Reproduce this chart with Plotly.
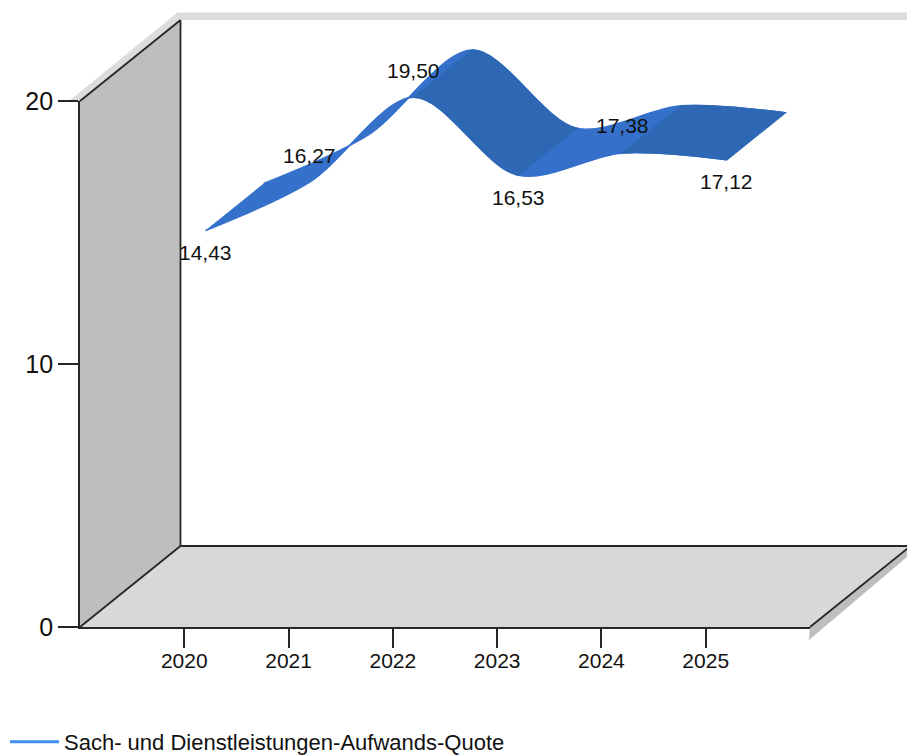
import plotly.graph_objects as go

# ---- data ----
years = [2020, 2021, 2022, 2023, 2024, 2025]
quote = [14.43, 16.27, 19.50, 16.53, 17.38, 17.12]
series_name = "Sach- und Dienstleistungen-Aufwands-Quote"
y_ticks = [0, 10, 20]
# shaded (away-facing) ribbon segments, by index of their first year
dark_segments = [2, 4]
labels_above = [False, True, True, False, True, False]

# ---- style / geometry ----
W, H = 907, 756
X0, X1, Y0, Y1 = 80, 810, 627, 101        # front plane in page pixels
XMIN, XMAX, YMIN, YMAX = 2019, 2026, 0, 20
sx = (X1 - X0) / (XMAX - XMIN)
sy = (Y0 - Y1) / (YMAX - YMIN)
DEPTH_PX = (100.5, 81)
RIBBON_FRONT, RIBBON_BACK = 0.21, 0.79
SMOOTH = 0.9
STROKE = 1.6
LIGHT, DARK = "#3571cb", "#2e68b4"
EDGE = "#262626"
TEXT = "#111111"
FONT = "Liberation Sans"


def dx(px):
    return XMIN + (px - X0) / sx


def dy(py):
    return YMIN + (Y0 - py) / sy


full_x_range = [dx(0), dx(W)]
full_y_range = [dy(H), dy(0)]


def edge(depth):
    xs = [y + depth * DEPTH_PX[0] / sx for y in years]
    ys = [v + depth * DEPTH_PX[1] / sy for v in quote]
    return xs, ys


def tangent(p, t, n):
    # same tangent rule as the renderer's spline, in pixel space
    d1 = (p[0] - t[0], p[1] - t[1])
    d2 = (n[0] - t[0], n[1] - t[1])
    a1 = (d1[0] ** 2 + d1[1] ** 2) ** 0.25
    a2 = (d2[0] ** 2 + d2[1] ** 2) ** 0.25
    nx = (a2 * a2 * d1[0] - a1 * a1 * d2[0]) * SMOOTH
    ny = (a2 * a2 * d1[1] - a1 * a1 * d2[1]) * SMOOTH
    de1, de2 = 3 * a2 * (a1 + a2), 3 * a1 * (a1 + a2)
    return ((t[0] + nx / de1, t[1] + ny / de1), (t[0] - nx / de2, t[1] - ny / de2))


def controls(xs, ys, i):
    """Control points (in data units) of the spline piece from i to i+1."""
    pts = [(x * sx, y * sy) for x, y in zip(xs, ys)]
    out = []
    if i > 0:
        out.append(tangent(pts[i - 1], pts[i], pts[i + 1])[1])
    if i + 2 < len(pts):
        out.append(tangent(pts[i], pts[i + 1], pts[i + 2])[0])
    return [(a / sx, b / sy) for a, b in out]


def seg_path(i):
    fx, fy = edge(RIBBON_FRONT)
    bx, by = edge(RIBBON_BACK)
    cf = controls(fx, fy, i)
    cb = controls(bx, by, i)[::-1]
    cmd = "C" if len(cf) == 2 else "Q"
    s = f"M{fx[i]},{fy[i]} {cmd}"
    s += " ".join(f"{a},{b}" for a, b in cf) + f" {fx[i+1]},{fy[i+1]} "
    s += f"L{bx[i+1]},{by[i+1]} {cmd}"
    s += " ".join(f"{a},{b}" for a, b in cb) + f" {bx[i]},{by[i]} Z"
    return s


def poly(points, fill):
    s = "M" + " L".join(f"{dx(a)},{dy(b)}" for a, b in points) + " Z"
    return dict(type="path", xref="x", yref="y", path=s, fillcolor=fill,
                line=dict(width=0), layer="below")


def seg(a, b, c, d, width=1.8):
    return dict(type="line", xref="x", yref="y", x0=dx(a), y0=dy(b), x1=dx(c), y1=dy(d),
                line=dict(color=EDGE, width=width), layer="below")


bx0, by0 = X0 + DEPTH_PX[0], Y0 - DEPTH_PX[1]
bytop = Y1 - DEPTH_PX[1]
rx = X1 + DEPTH_PX[0]

shapes = [
    poly([(X0, Y0), (bx0, by0), (bx0, bytop), (X0, Y1)], "#bebebe"),                 # side wall
    poly([(X0, Y0), (bx0, by0), (rx, by0), (X1, Y0)], "#d8d8d8"),                    # floor
    poly([(69, Y1), (bx0 - 3, 12.5), (W, 12.5), (W, bytop), (bx0, bytop), (X0, Y1)], "#dcdcdc"),  # top rim
    poly([(X1, Y0), (rx, by0), (rx, by0 + 8), (X1 - 1, 640)], "#bebebe"),            # right rim
    seg(bx0, by0, bx0, bytop),
    seg(bx0, by0, W, by0),
    seg(X0, Y0, bx0, by0),
    seg(X0, Y1, bx0, bytop),
    seg(X1, Y0, rx, by0),
]
for i in dark_segments:
    shapes.append(dict(type="path", xref="x", yref="y", path=seg_path(i),
                       fillcolor=DARK, line=dict(width=STROKE, color=DARK), layer="above"))

fig = go.Figure()
fx, fy = edge(RIBBON_FRONT)
bx, by = edge(RIBBON_BACK)
fig.add_trace(go.Scatter(x=fx, y=fy, mode="lines", showlegend=False,
                         line=dict(shape="spline", smoothing=SMOOTH, width=STROKE, color=LIGHT),
                         hoverinfo="skip"))
fig.add_trace(go.Scatter(x=bx, y=by, mode="lines", showlegend=False,
                         line=dict(shape="spline", smoothing=SMOOTH, width=STROKE, color=LIGHT),
                         fill="tonexty", fillcolor=LIGHT, hoverinfo="skip"))
fig.add_trace(go.Scatter(x=[None], y=[None], mode="lines", name=series_name,
                         line=dict(color="#3f8ef0", width=3)))
# invisible trace on the front-plane axes so that they are drawn with their ticks
fig.add_trace(go.Scatter(x=years, y=quote, xaxis="x2", yaxis="y2", mode="lines", showlegend=False,
                         hoverinfo="skip", line=dict(width=0, color=LIGHT)))

annotations = [
    dict(x=x, y=y, xref="x", yref="y", text=f"{v:.2f}".replace(".", ","), showarrow=False,
         yanchor="middle", yshift=(27 if up else -22), xanchor="center",
         font=dict(family=FONT, size=21, color=TEXT))
    for x, y, v, up in zip(fx, fy, quote, labels_above)
]

fig.update_layout(
    width=W, height=H, autosize=False, margin=dict(l=0, r=0, t=0, b=0, autoexpand=False),
    paper_bgcolor="white", plot_bgcolor="rgba(0,0,0,0)",
    font=dict(family=FONT, color=TEXT),
    shapes=shapes, annotations=annotations,
    xaxis2=dict(domain=[X0 / W, X1 / W], range=[XMIN, XMAX], tickmode="array", tickvals=years,
                ticktext=[str(y) for y in years], ticks="outside", ticklen=19, tickwidth=1.8,
                tickcolor=EDGE, showline=True, linecolor=EDGE, linewidth=1.8, showgrid=False,
                zeroline=False, tickfont=dict(size=21), fixedrange=True, anchor="y2",
                ticklabelstandoff=-5),
    yaxis2=dict(domain=[(H - Y0) / H, (H - Y1) / H], range=[YMIN, YMAX], tickmode="array",
                tickvals=y_ticks, ticks="outside", ticklen=20, tickwidth=1.8, tickcolor=EDGE,
                showline=True, linecolor=EDGE, linewidth=1.8, showgrid=False, zeroline=False,
                tickfont=dict(size=25), fixedrange=True, anchor="x2"),
    xaxis=dict(domain=[0, 1], range=full_x_range, visible=False, fixedrange=True, anchor="y"),
    yaxis=dict(domain=[0, 1], range=full_y_range, visible=False, fixedrange=True, anchor="x"),
    showlegend=True,
    legend=dict(x=5 / W, y=(H - 742) / H, xanchor="left", yanchor="middle", itemwidth=49,
                font=dict(family=FONT, size=22, color=TEXT), bgcolor="rgba(0,0,0,0)"),
)

fig.write_html("out.html", config={"displayModeBar": False},
               post_script="document.body.style.margin='0';")
